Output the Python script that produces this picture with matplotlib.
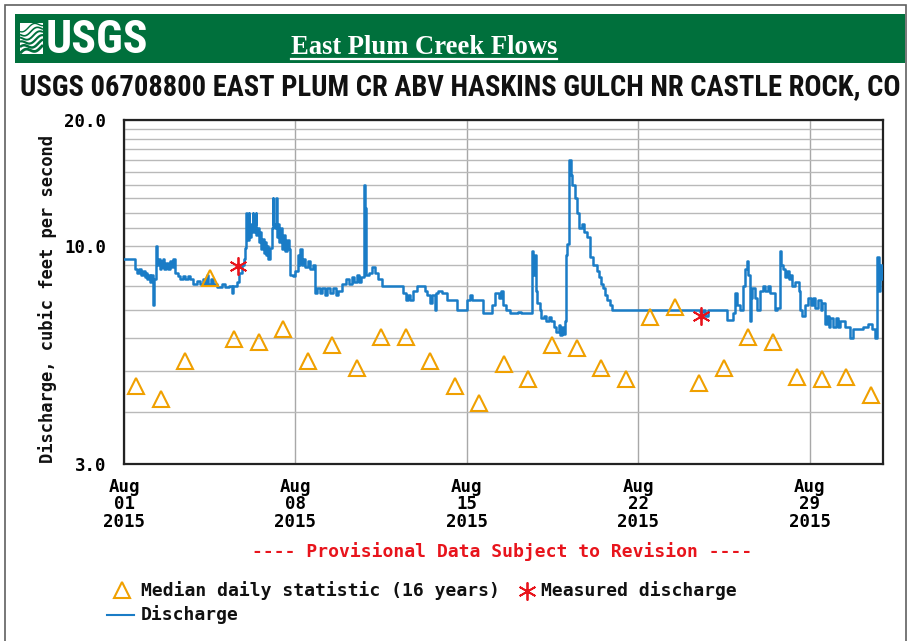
import numpy as np
import pandas as pd
import matplotlib
matplotlib.use("Agg")
import matplotlib.pyplot as plt
from matplotlib.patches import Rectangle
from matplotlib.lines import Line2D
from matplotlib.ticker import FixedLocator, NullFormatter
from matplotlib import font_manager

# ---------------------------------------------------------------- data
start = pd.Timestamp("2015-08-01")

# daily median statistic (16 years), one value per day, plotted at noon
median_day = list(range(31))
median_cfs = [4.61, 4.29, 5.29, 8.39, 5.97, 5.87, 6.30, 5.29, 5.77, 5.09,
              6.06, 6.06, 5.29, 4.61, 4.19, 5.20, 4.79, 5.77, 5.68, 5.09,
              4.79, 6.73, 7.15, 4.69, 5.09, 6.06, 5.87, 4.84, 4.79, 4.84,
              4.38]

# field measurements (days after Aug 01 00:00)
measured_day = [4.67, 23.58]
measured_cfs = [8.93, 6.77]

# instantaneous discharge record (days after Aug 01 00:00, cfs)
discharge_day = [
    0.00, 0.45, 0.55, 0.62, 0.70, 0.78, 0.85, 0.90, 0.95, 1.00, 1.06, 1.12,
    1.17, 1.19, 1.22, 1.31, 1.33, 1.40, 1.45, 1.50, 1.55, 1.60, 1.65, 1.72,
    1.80, 1.88, 1.95, 2.02, 2.08, 2.20, 2.30, 2.40, 2.50, 2.60, 2.70, 2.80,
    3.00, 3.10, 3.23, 3.30, 3.40, 3.45, 3.55, 3.65, 3.80, 4.00, 4.13, 4.30,
    4.42, 4.47, 4.60, 4.70, 4.80, 4.90, 4.95, 5.00, 5.03, 5.10, 5.12, 5.20,
    5.25, 5.28, 5.35, 5.38, 5.41, 5.45, 5.50, 5.55, 5.60, 5.65, 5.70, 5.75,
    5.80, 5.85, 5.90, 5.97, 6.05, 6.08, 6.10, 6.15, 6.20, 6.23, 6.30, 6.35,
    6.40, 6.45, 6.52, 6.58, 6.65, 6.72, 6.78, 6.90, 7.00, 7.10, 7.15, 7.20,
    7.25, 7.32, 7.40, 7.50, 7.60, 7.70, 7.81, 7.90, 8.00, 8.10, 8.20, 8.30,
    8.42, 8.55, 8.65, 8.75, 8.91, 9.05, 9.20, 9.30, 9.40, 9.50, 9.60, 9.70,
    9.81, 9.83, 9.87, 10.00, 10.13, 10.25, 10.38, 10.54, 11.40, 11.50, 11.60,
    11.70, 11.81, 11.97, 12.30, 12.38, 12.50, 12.60, 12.71, 12.76, 12.83,
    13.00, 13.20, 13.61, 14.02, 14.12, 14.20, 14.67, 15.04, 15.16, 15.30,
    15.40, 15.49, 15.60, 15.77, 16.10, 16.20, 16.67, 16.72, 16.78, 16.83,
    16.88, 17.00, 17.05, 17.15, 17.25, 17.35, 17.45, 17.55, 17.65, 17.75,
    17.82, 17.88, 17.95, 18.02, 18.05, 18.10, 18.19, 18.25, 18.31, 18.40,
    18.51, 18.60, 18.72, 18.80, 18.92, 19.04, 19.17, 19.30, 19.40, 19.50,
    19.57, 19.65, 19.74, 19.86, 19.94, 23.54, 23.65, 23.75, 23.87, 24.64,
    24.89, 24.97, 25.05, 25.17, 25.30, 25.38, 25.45, 25.50, 25.58, 25.62,
    25.66, 25.78, 25.87, 25.99, 26.10, 26.20, 26.30, 26.40, 26.60, 26.69,
    26.81, 26.85, 26.93, 27.00, 27.09, 27.15, 27.22, 27.30, 27.42, 27.55,
    27.63, 27.70, 27.83, 27.95, 28.05, 28.15, 28.24, 28.35, 28.45, 28.52,
    28.65, 28.70, 28.80, 28.85, 28.95, 29.06, 29.15, 29.26, 29.46, 29.67,
    29.79, 30.20, 30.40, 30.57, 30.69, 30.77, 30.82, 30.88, 30.95, 31.00]
discharge_cfs = [
    9.30, 8.80, 8.60, 8.80, 8.50, 8.70, 8.40, 8.60, 8.30, 8.50, 8.20, 8.50,
    8.00, 7.20, 8.30, 10.0, 9.00, 9.30, 8.80, 9.20, 8.90, 9.30, 8.80, 9.10,
    8.80, 9.20, 8.90, 9.30, 8.60, 8.45, 8.30, 8.45, 8.30, 8.45, 8.30, 8.10,
    8.25, 8.10, 8.30, 8.10, 8.50, 8.10, 8.30, 8.10, 7.95, 8.10, 7.95, 8.00,
    7.70, 8.00, 8.20, 8.60, 9.00, 9.30, 9.90, 12.0, 10.3, 12.0, 10.5, 11.3,
    12.0, 10.8, 11.3, 12.0, 10.6, 11.0, 10.2, 10.8, 9.80, 10.4, 9.60, 10.2,
    9.50, 10.0, 9.30, 9.90, 11.0, 13.0, 11.3, 11.0, 13.0, 10.5, 11.3, 10.2,
    11.0, 9.80, 10.6, 9.70, 10.3, 9.80, 8.50, 8.45, 8.70, 9.50, 9.00, 9.80,
    9.00, 9.30, 8.90, 9.20, 8.80, 9.00, 7.70, 7.90, 7.70, 7.90, 7.60, 7.90,
    7.70, 7.90, 7.60, 7.80, 8.10, 8.30, 8.10, 8.40, 8.20, 8.50, 8.20, 8.40,
    14.0, 12.3, 8.50, 8.60, 8.90, 8.60, 8.30, 8.00, 7.70, 7.40, 7.60,
    7.40, 7.80, 8.00, 7.80, 7.60, 7.30, 7.60, 7.00, 7.70, 7.80,
    7.70, 7.40, 7.00, 7.40, 7.60, 7.40, 6.90, 7.20, 7.70, 7.50,
    7.80, 7.20, 7.00, 6.90, 6.95, 6.90, 9.70, 8.50, 9.50, 7.80,
    7.30, 7.00, 6.70, 6.80, 6.60, 6.75, 6.60, 6.40, 6.20, 6.45,
    6.10, 6.40, 6.15, 6.60, 9.50, 10.1, 16.0, 14.8, 14.0, 13.0,
    12.0, 11.0, 11.3, 10.8, 10.5, 9.40, 9.00, 8.70, 8.40, 8.10,
    7.90, 7.60, 7.40, 7.20, 7.00, 6.95, 7.00, 6.80, 7.00, 6.65,
    6.90, 7.70, 7.20, 7.00, 8.00, 8.80, 9.20, 8.50, 6.60, 7.50,
    7.90, 7.50, 7.00, 7.80, 8.00, 7.80, 8.00, 7.70, 7.00, 7.10,
    9.70, 9.00, 8.80, 8.40, 8.70, 8.30, 8.50, 8.00, 8.20, 7.80,
    7.00, 6.80, 7.20, 7.50, 7.20, 7.50, 7.10, 7.40, 7.00, 7.30,
    6.50, 6.80, 6.40, 6.70, 6.40, 6.70, 6.40, 6.60, 6.40, 6.00,
    6.30, 6.40, 6.50, 6.30, 6.00, 9.40, 7.80, 9.00, 8.30, 8.30]

y_major = [3, 10, 20]
y_major_labels = ["3.0", "10.0", "20.0"]
y_minor = [4, 5, 6, 7, 8, 9, 11, 12, 13, 14, 15, 16, 17, 18, 19]
x_tick_days = [0, 7, 14, 21, 28]
x_tick_labels = ["Aug\n01\n2015", "Aug\n08\n2015", "Aug\n15\n2015",
                 "Aug\n22\n2015", "Aug\n29\n2015"]

# ---------------------------------------------------------------- styling
W, H = 910, 641
MONO = ["DejaVu Sans Mono"]
_names = {f.name for f in font_manager.fontManager.ttflist}
NARROW = [n for n in ["Liberation Sans Narrow", "Roboto Condensed",
                      "Open Sans Condensed", "DejaVu Sans Condensed",
                      "Liberation Sans"] if n in _names] or ["DejaVu Sans"]
GREEN = "#00703c"
BLUE = "#1a7cc6"
ORANGE = "#f0a000"
RED = "#e8141c"


def fx(px):
    return px / W


def fy(py):
    return 1 - py / H


def to_time(days):
    return start + pd.to_timedelta(np.asarray(days, dtype=float), unit="D")


fig = plt.figure(figsize=(W / 100, H / 100), dpi=100)
fig.patch.set_facecolor("white")

# outer frame and banner
fig.add_artist(Rectangle((fx(5), fy(646)), fx(906) - fx(5), fy(5) - fy(646),
                         transform=fig.transFigure, fill=False,
                         ec="#606060", lw=1.2))
fig.add_artist(Rectangle((fx(15), fy(63)), fx(905) - fx(15), fy(14) - fy(63),
                         transform=fig.transFigure, fc=GREEN, ec="none",
                         zorder=0.5))

# wave emblem of the logo
logo = fig.add_axes([fx(20), fy(54), fx(43) - fx(20), fy(23) - fy(54)])
logo.set_zorder(2)
logo.set_xlim(0, 1)
logo.set_ylim(0, 1)
logo.axis("off")
logo.add_patch(Rectangle((0, 0), 1, 1, fc="white", ec="none"))
tt = np.linspace(0, 1, 60)
for k, base in enumerate([0.02, 0.17, 0.32, 0.47, 0.62, 0.77]):
    logo.plot(tt, base + 0.08 * np.sin(2 * np.pi * (tt * 1.1 + 0.12 * k)) + 0.22 * tt,
              color=GREEN, lw=2.0 - 0.2 * k, solid_capstyle="butt")

usgs_txt = fig.text(fx(46), fy(40), "USGS", color="white", fontsize=31,
                    fontweight="bold", family=NARROW, fontstretch="condensed",
                    ha="left", va="center", zorder=3)
banner_txt = fig.text(fx(424), fy(47), "East Plum Creek Flows", color="white",
                      fontsize=19.5, fontweight="bold",
                      family=["Liberation Serif", "DejaVu Serif"],
                      ha="center", va="center", zorder=3)
title_txt = fig.text(fx(460), fy(87),
                     "USGS 06708800 EAST PLUM CR ABV HASKINS GULCH NR CASTLE ROCK, CO",
                     color="#111111", fontsize=23, fontweight="bold",
                     family=NARROW, fontstretch="condensed",
                     ha="center", va="center")

# ---------------------------------------------------------------- axes
ax = fig.add_axes([fx(124), fy(464), fx(883) - fx(124), fy(120) - fy(464)])
ax.set_yscale("log")
ax.set_ylim(3, 20)
ax.set_xlim(to_time(0), to_time(31))

ax.yaxis.set_major_locator(FixedLocator(y_major))
ax.set_yticklabels(y_major_labels)
ax.yaxis.set_minor_locator(FixedLocator(y_minor))
ax.yaxis.set_minor_formatter(NullFormatter())
ax.set_xticks(to_time(x_tick_days))
ax.set_xticklabels(x_tick_labels)

ax.grid(True, axis="y", which="both", color="#b9b9b9", lw=1.0)
ax.grid(True, axis="x", which="major", color="#a8a8a8", lw=1.0)
ax.set_axisbelow(True)
ax.tick_params(axis="both", which="both", length=0)
ax.tick_params(axis="y", pad=13)
ax.tick_params(axis="x", pad=10)
for lab in ax.get_yticklabels() + ax.get_xticklabels():
    lab.set_family(MONO)
    lab.set_fontweight("bold")
    lab.set_fontsize(12.5)
for lab in ax.get_xticklabels():
    lab.set_linespacing(0.97)
for sp in ax.spines.values():
    sp.set_color("#222222")
    sp.set_linewidth(1.6)

ax.plot(to_time(discharge_day), discharge_cfs, drawstyle="steps-post",
        color=BLUE, lw=1.8, zorder=3)
ax.plot(to_time(np.asarray(median_day) + 0.5), median_cfs, ls="none",
        marker="^", ms=11, mfc="none", mec=ORANGE, mew=1.5, zorder=4)
ax.plot(to_time(measured_day), measured_cfs, ls="none", marker=(6, 2, 0),
        ms=13, mec=RED, mew=1.3, zorder=5)
ax.plot(to_time(measured_day), measured_cfs, ls="none", marker="o",
        ms=3.5, mfc=RED, mec=RED, zorder=5)

fig.text(fx(48), fy(299), "Discharge, cubic feet per second", rotation=90,
         family=MONO, fontweight="bold", fontsize=12.3, ha="center",
         va="center", color="#111111")

fig.text(fx(502), fy(552), "---- Provisional Data Subject to Revision ----",
         family=MONO, fontweight="bold", fontsize=13, color=RED,
         ha="center", va="center")

# ---------------------------------------------------------------- legend
fig.add_artist(Line2D([fx(122)], [fy(590)], transform=fig.transFigure,
                      marker="^", ms=11, mfc="none", mec=ORANGE, mew=1.5,
                      ls="none"))
fig.text(fx(141), fy(591), "Median daily statistic (16 years)", family=MONO,
         fontweight="bold", fontsize=13, ha="left", va="center",
         color="#111111")
fig.add_artist(Line2D([fx(527)], [fy(591)], transform=fig.transFigure,
                      marker=(6, 2, 0), ms=13, mec=RED, mew=1.3, ls="none"))
fig.text(fx(541), fy(591), "Measured discharge", family=MONO,
         fontweight="bold", fontsize=13, ha="left", va="center",
         color="#111111")
fig.add_artist(Line2D([fx(107), fx(134)], [fy(615), fy(615)],
                      transform=fig.transFigure, color=BLUE, lw=1.5))
fig.text(fx(141), fy(615), "Discharge", family=MONO, fontweight="bold",
         fontsize=13, ha="left", va="center", color="#111111")

# ---------------------------------------------------------------- header fitting
fig.canvas.draw()
renderer = fig.canvas.get_renderer()


def fit_width(txt, target_px):
    w = txt.get_window_extent(renderer).width
    txt.set_fontsize(txt.get_fontsize() * target_px / w)


fit_width(title_txt, 884)
fit_width(banner_txt, 267)
fit_width(usgs_txt, 102)
fig.canvas.draw()
bb = banner_txt.get_window_extent(renderer)
fig.add_artist(Line2D([bb.x0 / W, bb.x1 / W], [fy(59), fy(59)],
                      transform=fig.transFigure, color="white", lw=1.6,
                      zorder=3))

fig.savefig("out.png", dpi=100, facecolor="white")
